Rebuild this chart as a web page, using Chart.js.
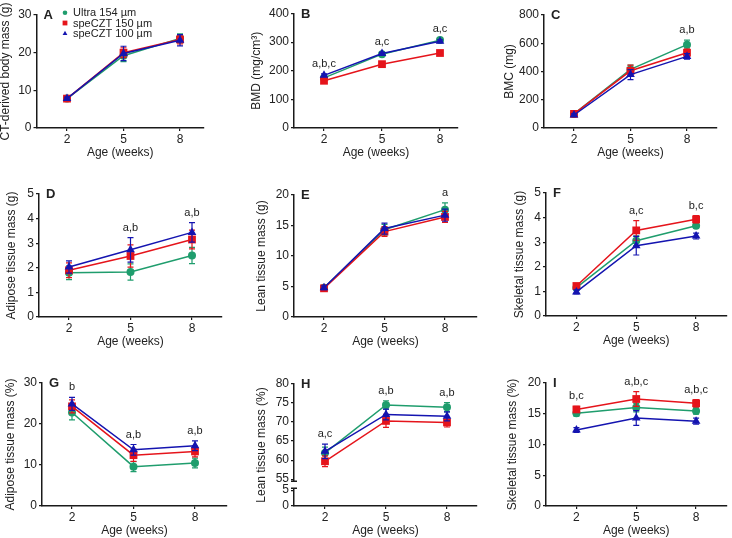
<!DOCTYPE html>
<html>
<head>
<meta charset="utf-8">
<script src="https://cdn.jsdelivr.net/npm/chart.js@4.4.1/dist/chart.umd.min.js"></script>
<style>
    html, body { margin: 0; padding: 0; background: #fff; }
    #wrap { position: relative; width: 732px; height: 538px; }
    #wrap canvas { position: absolute; left: 0; top: 0; }
</style>
</head>
<body>
<div id="wrap"></div>
<script>
// =====================
// DATA
// =====================
const weeks = [2, 5, 8];
const groupNames = ['Ultra 154 µm', 'speCZT 150 µm', 'speCZT 100 µm'];

// A - CT-derived body mass (g)
const bodyMassUltra  = [7.8, 19.2, 23.8];
const bodyMassCzt150 = [7.8, 20.0, 23.5];
const bodyMassCzt100 = [7.8, 19.8, 23.3];
const bodyMassSdUltra  = [0.4, 1.6, 1.2];
const bodyMassSdCzt150 = [0.4, 1.3, 1.2];
const bodyMassSdCzt100 = [0.4, 1.9, 1.5];
const bodyMassNotes = ['', '', ''];

// B - BMD (mg/cm3)
const bmdUltra  = [175, 258, 307];
const bmdCzt150 = [165, 223, 262];
const bmdCzt100 = [184, 260, 303];
const bmdSdUltra  = [4, 4, 5];
const bmdSdCzt150 = [4, 4, 4];
const bmdSdCzt100 = [5, 4, 5];
const bmdNotes = ['a,b,c', 'a,c', 'a,c'];

// C - BMC (mg)
const bmcUltra  = [100, 415, 590];
const bmcCzt150 = [100, 405, 533];
const bmcCzt100 = [92, 378, 507];
const bmcSdUltra  = [8, 30, 32];
const bmcSdCzt150 = [8, 40, 25];
const bmcSdCzt100 = [8, 35, 20];
const bmcNotes = ['', '', 'a,b'];

// D - Adipose tissue mass (g)
const adiposeUltra  = [1.80, 1.83, 2.50];
const adiposeCzt150 = [1.90, 2.48, 3.15];
const adiposeCzt100 = [2.03, 2.73, 3.44];
const adiposeSdUltra  = [0.28, 0.33, 0.33];
const adiposeSdCzt150 = [0.30, 0.45, 0.38];
const adiposeSdCzt100 = [0.25, 0.50, 0.40];
const adiposeNotes = ['', 'a,b', 'a,b'];

// E - Lean tissue mass (g)
const leanUltra  = [4.8, 14.3, 17.6];
const leanCzt150 = [4.7, 14.0, 16.4];
const leanCzt100 = [4.8, 14.5, 16.7];
const leanSdUltra  = [0.3, 0.9, 1.1];
const leanSdCzt150 = [0.3, 0.8, 0.9];
const leanSdCzt100 = [0.3, 0.9, 1.0];
const leanNotes = ['', '', 'a'];

// F - Skeletal tissue mass (g)
const skeletalUltra  = [1.15, 3.06, 3.67];
const skeletalCzt150 = [1.22, 3.48, 3.93];
const skeletalCzt100 = [0.98, 2.86, 3.25];
const skeletalSdUltra  = [0.08, 0.20, 0.10];
const skeletalSdCzt150 = [0.08, 0.40, 0.15];
const skeletalSdCzt100 = [0.08, 0.38, 0.12];
const skeletalNotes = ['', 'a,c', 'b,c'];

// G - Adipose tissue mass (%)
const adiposePctUltra  = [22.8, 9.6, 10.5];
const adiposePctCzt150 = [24.3, 12.4, 13.3];
const adiposePctCzt100 = [24.9, 13.7, 14.7];
const adiposePctSdUltra  = [1.8, 1.2, 1.2];
const adiposePctSdCzt150 = [1.6, 1.5, 1.3];
const adiposePctSdCzt100 = [1.6, 1.3, 1.2];
const adiposePctNotes = ['b', 'a,b', 'a,b'];

// H - Lean tissue mass (%)
const leanPctUltra  = [61.9, 74.5, 73.9];
const leanPctCzt150 = [59.7, 70.3, 69.9];
const leanPctCzt100 = [62.3, 72.0, 71.5];
const leanPctSdUltra  = [1.5, 1.1, 1.2];
const leanPctSdCzt150 = [1.4, 1.7, 1.2];
const leanPctSdCzt100 = [1.9, 1.4, 1.2];
const leanPctNotes = ['a,c', 'a,b', 'a,b'];
const leanPctTicks = [0, 5, 55, 60, 65, 70, 75, 80];

// I - Skeletal tissue mass (%)
const skeletalPctUltra  = [15.1, 16.0, 15.45];
const skeletalPctCzt150 = [15.7, 17.4, 16.7];
const skeletalPctCzt100 = [12.35, 14.3, 13.8];
const skeletalPctSdUltra  = [0.5, 0.7, 0.5];
const skeletalPctSdCzt150 = [0.5, 1.2, 0.6];
const skeletalPctSdCzt100 = [0.4, 1.2, 0.5];
const skeletalPctNotes = ['b,c', 'a,b,c', 'a,b,c'];

// =====================
// STYLE
// =====================
const FONT = '"Liberation Sans", Arial, sans-serif';
const TEXT = '#222';
const AXIS = '#1a1a1a';
const colors  = ['#1f9d6d', '#e5141b', '#1414b0'];
const markers = ['circle', 'rect', 'triangle'];
const radii   = [4, 5.5, 5];
const X_BAND = 31;

Chart.defaults.font.family = FONT;
Chart.defaults.color = TEXT;

// =====================
// PANELS
// =====================
const panels = [
    { letter: 'A', title: 'CT-derived body mass (g)', yMax: 30, step: 10, legend: true,
      values: [bodyMassUltra, bodyMassCzt150, bodyMassCzt100],
      errors: [bodyMassSdUltra, bodyMassSdCzt150, bodyMassSdCzt100], notes: bodyMassNotes,
      box: { L: 36.5, R: 204, T: 15, B: 128, x2: 67, x8: 180, tx: 6 } },
    { letter: 'B', title: 'BMD (mg/cm³)', yMax: 400, step: 100,
      values: [bmdUltra, bmdCzt150, bmdCzt100],
      errors: [bmdSdUltra, bmdSdCzt150, bmdSdCzt100], notes: bmdNotes,
      box: { L: 294, R: 458, T: 13.5, B: 128, x2: 324, x8: 440, tx: 257 } },
    { letter: 'C', title: 'BMC (mg)', yMax: 800, step: 200,
      values: [bmcUltra, bmcCzt150, bmcCzt100],
      errors: [bmcSdUltra, bmcSdCzt150, bmcSdCzt100], notes: bmcNotes,
      box: { L: 544, R: 717, T: 15, B: 128, x2: 574, x8: 687, tx: 510 } },
    { letter: 'D', title: 'Adipose tissue mass (g)', yMax: 5, step: 1,
      values: [adiposeUltra, adiposeCzt150, adiposeCzt100],
      errors: [adiposeSdUltra, adiposeSdCzt150, adiposeSdCzt100], notes: adiposeNotes,
      box: { L: 39, R: 222, T: 194, B: 317, x2: 69, x8: 192, tx: 12 } },
    { letter: 'E', title: 'Lean tissue mass (g)', yMax: 20, step: 5,
      values: [leanUltra, leanCzt150, leanCzt100],
      errors: [leanSdUltra, leanSdCzt150, leanSdCzt100], notes: leanNotes,
      box: { L: 294, R: 477, T: 195, B: 317, x2: 324, x8: 445, tx: 262 } },
    { letter: 'F', title: 'Skeletal tissue mass (g)', yMax: 5, step: 1,
      values: [skeletalUltra, skeletalCzt150, skeletalCzt100],
      errors: [skeletalSdUltra, skeletalSdCzt150, skeletalSdCzt100], notes: skeletalNotes,
      box: { L: 546, R: 730, T: 193, B: 316, x2: 577, x8: 699, tx: 520 } },
    { letter: 'G', title: 'Adipose tissue mass (%)', yMax: 30, step: 10,
      values: [adiposePctUltra, adiposePctCzt150, adiposePctCzt100],
      errors: [adiposePctSdUltra, adiposePctSdCzt150, adiposePctSdCzt100], notes: adiposePctNotes,
      box: { L: 42, R: 227, T: 383, B: 506, x2: 72, x8: 195, tx: 11 } },
    { letter: 'H', title: 'Lean tissue mass (%)', yMax: 80, step: 5, broken: leanPctTicks,
      values: [leanPctUltra, leanPctCzt150, leanPctCzt100],
      errors: [leanPctSdUltra, leanPctSdCzt150, leanPctSdCzt100], notes: leanPctNotes,
      box: { L: 294, R: 477, T: 384, B: 506, x2: 325, x8: 447, tx: 262 } },
    { letter: 'I', title: 'Skeletal tissue mass (%)', yMax: 20, step: 5,
      values: [skeletalPctUltra, skeletalPctCzt150, skeletalPctCzt100],
      errors: [skeletalPctSdUltra, skeletalPctSdCzt150, skeletalPctSdCzt100], notes: skeletalPctNotes,
      box: { L: 546, R: 730, T: 383, B: 506, x2: 577, x8: 699, tx: 513 } },
];

// =====================
// HELPERS
// =====================
// broken axis (panel H): 0-5 at the bottom, a gap, then 55-80
function brokenPixel(scale, v) {
    const h = scale.bottom - scale.top;
    const low = h * 0.13, gap = h * 0.09, up = h - low - gap;
    if (v <= 5) return scale.bottom - (v / 5) * low;
    return scale.bottom - low - gap - ((v - 55) / 25) * up;
}

function drawMarker(ctx, style, x, y, r) {
    ctx.beginPath();
    if (style === 'circle') {
        ctx.arc(x, y, r, 0, Math.PI * 2);
    } else if (style === 'rect') {
        ctx.rect(x - r, y - r, r * 2, r * 2);
    } else {
        ctx.moveTo(x, y - r * 1.1);
        ctx.lineTo(x + r, y + r * 0.7);
        ctx.lineTo(x - r, y + r * 0.7);
        ctx.closePath();
    }
    ctx.fill();
}

// =====================
// PLUGINS
// =====================
const errorBars = {
    id: 'errorBars',
    afterDatasetDraw(chart, args) {
        const ds = chart.data.datasets[args.index];
        const { ctx, scales: { x, y } } = chart;
        ctx.save();
        ctx.strokeStyle = ds.borderColor;
        ctx.lineWidth = 1.2;
        ds.data.forEach((pt, i) => {
            const px = x.getPixelForValue(pt.x);
            const top = y.getPixelForValue(pt.y + ds.errors[i]);
            const bot = y.getPixelForValue(pt.y - ds.errors[i]);
            ctx.beginPath();
            ctx.moveTo(px, top); ctx.lineTo(px, bot);
            ctx.moveTo(px - 3, top); ctx.lineTo(px + 3, top);
            ctx.moveTo(px - 3, bot); ctx.lineTo(px + 3, bot);
            ctx.stroke();
        });
        ctx.restore();
    }
};

const decorations = {
    id: 'decorations',
    afterDraw(chart, args, opts) {
        const { ctx, chartArea, scales: { x, y } } = chart;
        const sets = chart.data.datasets;
        ctx.save();

        // panel letter
        ctx.fillStyle = TEXT;
        ctx.font = 'bold 13px ' + FONT;
        ctx.textAlign = 'left';
        ctx.textBaseline = 'middle';
        ctx.fillText(opts.letter, chartArea.left + 7, chartArea.top + 0.5);

        // significance letters above the highest error bar
        ctx.font = '11px ' + FONT;
        ctx.textAlign = 'center';
        opts.notes.forEach((note, i) => {
            if (!note) return;
            const top = Math.min(...sets.map(ds => y.getPixelForValue(ds.data[i].y + ds.errors[i])));
            ctx.fillText(note, x.getPixelForValue(weeks[i]), top - 10);
        });

        // axis break
        if (opts.broken) {
            const a = y.getPixelForValue(55), b = y.getPixelForValue(5);
            const lx = chartArea.left;
            ctx.clearRect(lx - 2, a + 2, 4, b - a - 4);
            ctx.strokeStyle = AXIS;
            ctx.lineWidth = 1.5;
            ctx.beginPath();
            ctx.moveTo(lx - 3, a + 2); ctx.lineTo(lx + 3, a + 2);
            ctx.moveTo(lx - 3, b - 2); ctx.lineTo(lx + 3, b - 2);
            ctx.stroke();
        }

        // legend (panel A only)
        if (opts.legend) {
            ctx.font = '11px ' + FONT;
            ctx.textAlign = 'left';
            groupNames.forEach((name, i) => {
                const ly = chartArea.top - 2.3 + i * 10.3;
                ctx.fillStyle = colors[i];
                drawMarker(ctx, markers[i], chartArea.left + 28.5, ly, i === 0 ? 2.3 : 2.4);
                ctx.fillStyle = TEXT;
                ctx.fillText(name, chartArea.left + 36.5, ly + 0.5);
            });
        }
        ctx.restore();
    }
};

// =====================
// RENDER PANEL
// =====================
function renderPanel(p) {
    const canvas = document.createElement('canvas');
    canvas.width = 732;
    canvas.height = 538;
    document.getElementById('wrap').appendChild(canvas);

    const b = p.box;
    const unit = (b.x8 - b.x2) / 6;
    const xMin = 2 - (b.x2 - b.L) / unit;
    const xMax = 8 + (b.R - b.x8) / unit;

    const datasets = p.values.map((vals, i) => ({
        label: groupNames[i],
        data: vals.map((v, j) => ({ x: weeks[j], y: v })),
        errors: p.errors[i],
        borderColor: colors[i],
        backgroundColor: colors[i],
        borderWidth: 1.5,
        pointStyle: markers[i],
        pointRadius: radii[i],
        pointHoverRadius: radii[i],
        pointBorderWidth: 0,
        pointBackgroundColor: colors[i],
        tension: 0,
        order: 3 - i,
    }));

    const yScale = {
        type: 'linear',
        min: 0,
        max: p.yMax,
        afterFit: s => { s.width = b.L - (b.tx - 6); },
        border: { color: AXIS, width: 1.5 },
        grid: { drawOnChartArea: false, tickLength: 3, color: AXIS, lineWidth: 1.2 },
        ticks: { stepSize: p.step, padding: 2, autoSkip: false, color: TEXT, font: { size: 12 } },
        title: { display: true, text: p.title, color: TEXT, padding: 0, font: { size: 12, lineHeight: 1 } },
    };
    if (p.broken) {
        yScale.afterBuildTicks = s => {
            s.ticks = p.broken.map(v => ({ value: v }));
            s.getPixelForValue = v => brokenPixel(s, v);
        };
    }

    new Chart(canvas.getContext('2d'), {
        type: 'line',
        data: { datasets: datasets },
        options: {
            responsive: false,
            animation: false,
            devicePixelRatio: 1,
            clip: false,
            layout: {
                padding: { left: b.tx - 6, top: b.T, right: 732 - b.R, bottom: 538 - b.B - X_BAND }
            },
            plugins: {
                legend: { display: false },
                tooltip: { enabled: true },
                decorations: { letter: p.letter, notes: p.notes, legend: !!p.legend, broken: !!p.broken },
            },
            scales: {
                x: {
                    type: 'linear',
                    min: xMin,
                    max: xMax,
                    afterBuildTicks: s => { s.ticks = weeks.map(v => ({ value: v })); },
                    afterFit: s => { s.height = X_BAND; },
                    border: { color: AXIS, width: 1.5 },
                    grid: { drawOnChartArea: false, tickLength: 3, color: AXIS, lineWidth: 1.2 },
                    ticks: { padding: 1, color: TEXT, font: { size: 12 } },
                    title: { display: true, text: 'Age (weeks)', color: TEXT, padding: 0, font: { size: 12, lineHeight: 1 } },
                },
                y: yScale,
            }
        },
        plugins: [errorBars, decorations]
    });
}

panels.forEach(renderPanel);
</script>
</body>
</html>
